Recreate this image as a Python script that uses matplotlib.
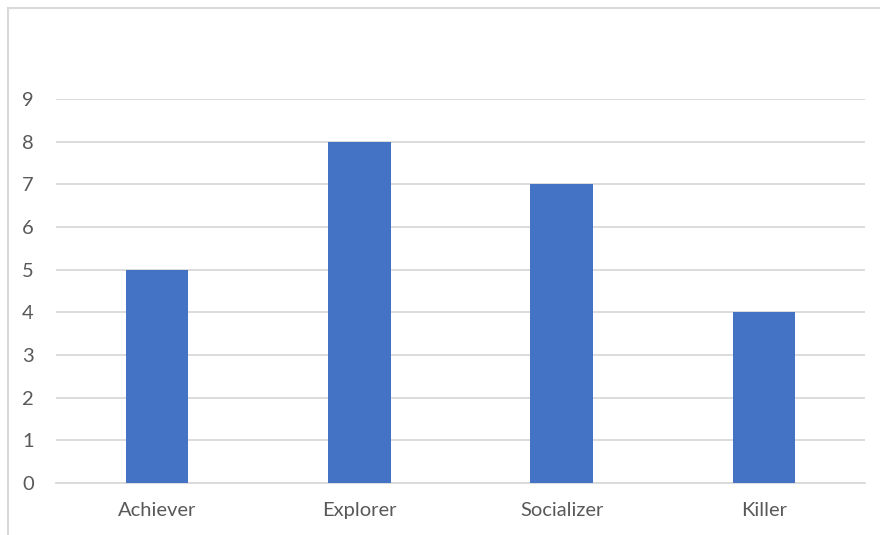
import matplotlib.pyplot as plt
from matplotlib.lines import Line2D

categories = ['Achiever', 'Explorer', 'Socializer', 'Killer']
values = [5, 8, 7, 4]
yticks = list(range(0, 10))

W, H = 880, 535
fig = plt.figure(figsize=(W / 100, H / 100), dpi=100)
plt.rcParams['font.family'] = ['Lato', 'DejaVu Sans']

# plot area in pixels: x 56..865, y 99..483
ax = fig.add_axes([56 / W, (H - 483) / H, (865 - 56) / W, (483 - 99) / H])

x = range(len(categories))
ax.bar(x, values, width=0.31, color='#4472c4', zorder=3)

ax.set_xlim(-0.5, len(categories) - 0.5)
ax.set_ylim(0, 9)
ax.set_yticks(yticks)
ax.set_xticks(list(x))
ax.set_xticklabels(categories)

ax.yaxis.grid(True, color='#d9d9d9', linewidth=1.3, zorder=0)
ax.set_axisbelow(True)
for side in ['top', 'right', 'left']:
    ax.spines[side].set_visible(False)
ax.spines['bottom'].set_color('#d9d9d9')
ax.spines['bottom'].set_linewidth(1.3)

ax.tick_params(axis='both', length=0, labelsize=14.5, labelcolor='#595959')
ax.tick_params(axis='y', pad=16)
ax.tick_params(axis='x', pad=14)

# chart border (left and top edges)
fig.add_artist(Line2D([7.5 / W, 1], [1 - 7.5 / H, 1 - 7.5 / H], color='#d9d9d9', linewidth=1.5))
fig.add_artist(Line2D([7.5 / W, 7.5 / W], [0, 1 - 7.5 / H], color='#d9d9d9', linewidth=1.5))

fig.savefig('out.png', dpi=100)
